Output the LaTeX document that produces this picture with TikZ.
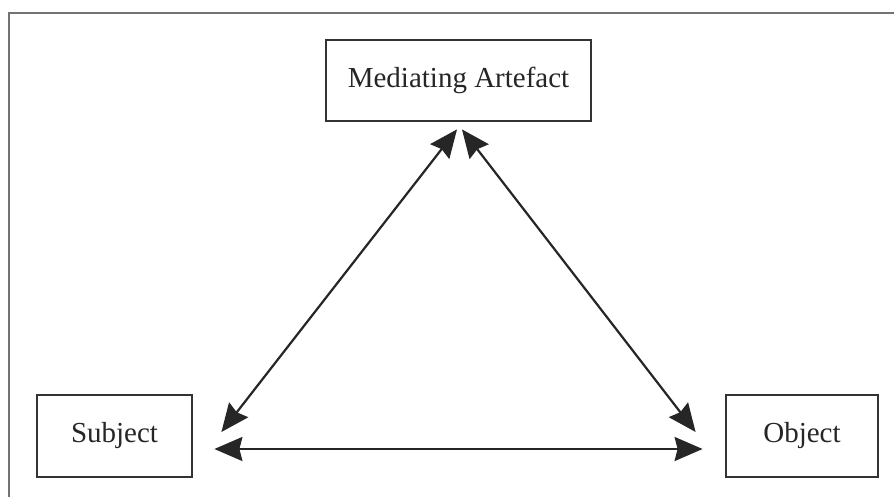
\documentclass[tikz,border=0pt]{standalone}
\usepackage{fontspec}
\setmainfont{Liberation Serif}
\usetikzlibrary{arrows.meta}
\begin{document}
\begin{tikzpicture}[x=1pt,y=-1pt,
  box/.style={draw=black!80, line width=2.8pt, fill=white, inner sep=0pt,
    font=\fontsize{29}{30}\selectfont, text=black!85},
  link/.style={draw=black!85, line width=2.2pt,
    {Stealth[length=28pt,width=24pt,inset=3pt]}-{Stealth[length=28pt,width=24pt,inset=3pt]}}]
\useasboundingbox (0,0) rectangle (894,497);
\fill[white] (0,0) rectangle (894,497);
\draw[black!55, line width=1.8pt] (9,497) -- (9,13) -- (894,13);
\node[box, minimum width=265pt, minimum height=81pt] (ma) at (458.5,80.5) {Mediating Artefact};
\node[box, minimum width=155pt, minimum height=82pt] (sub) at (114.5,436) {Subject};
\node[box, minimum width=152pt, minimum height=82pt] (obj) at (802,436) {Object};
\draw[link] ([xshift=-1.5pt,yshift=-7pt]ma.south) -- ([xshift=28pt,yshift=4pt]sub.east);
\draw[link] ([xshift=3.5pt,yshift=-7pt]ma.south) -- ([xshift=-29pt,yshift=4pt]obj.west);
\draw[link] ([xshift=21pt,yshift=-13pt]sub.east) -- ([xshift=-22pt,yshift=-13pt]obj.west);
\end{tikzpicture}
\end{document}
